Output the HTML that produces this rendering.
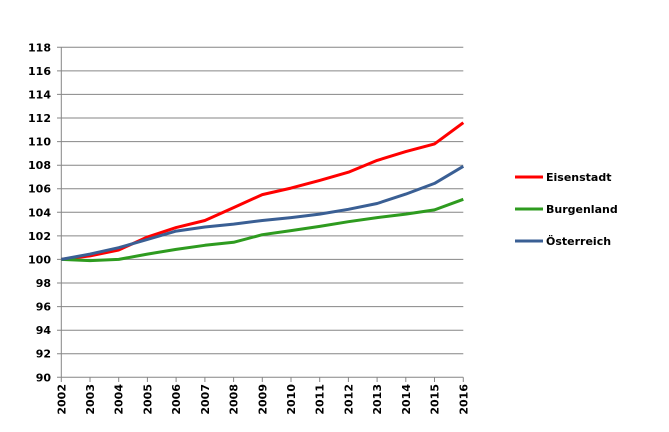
<!DOCTYPE html>
<html><head><meta charset="utf-8"><style>body{margin:0;background:#fff}svg{display:block}text{font-family:"DejaVu Sans","Liberation Sans",sans-serif;font-weight:bold;font-size:11px;fill:#000}</style></head><body>
<svg width="669" height="432" viewBox="0 0 669 432" xmlns="http://www.w3.org/2000/svg">
<g stroke="#868686" stroke-width="1">
<line x1="57" x2="463.3" y1="47.3" y2="47.3"/><line x1="57" x2="463.3" y1="70.9" y2="70.9"/><line x1="57" x2="463.3" y1="94.4" y2="94.4"/><line x1="57" x2="463.3" y1="118" y2="118"/><line x1="57" x2="463.3" y1="141.6" y2="141.6"/><line x1="57" x2="463.3" y1="165.2" y2="165.2"/><line x1="57" x2="463.3" y1="188.7" y2="188.7"/><line x1="57" x2="463.3" y1="212.3" y2="212.3"/><line x1="57" x2="463.3" y1="235.9" y2="235.9"/><line x1="57" x2="463.3" y1="259.4" y2="259.4"/><line x1="57" x2="463.3" y1="283" y2="283"/><line x1="57" x2="463.3" y1="306.6" y2="306.6"/><line x1="57" x2="463.3" y1="330.2" y2="330.2"/><line x1="57" x2="463.3" y1="353.7" y2="353.7"/><line x1="57" x2="463.3" y1="377.3" y2="377.3"/>
<line x1="61.3" x2="61.3" y1="47.3" y2="382"/>
<line x1="90" x2="90" y1="377.3" y2="382"/><line x1="118.7" x2="118.7" y1="377.3" y2="382"/><line x1="147.4" x2="147.4" y1="377.3" y2="382"/><line x1="176.1" x2="176.1" y1="377.3" y2="382"/><line x1="204.9" x2="204.9" y1="377.3" y2="382"/><line x1="233.6" x2="233.6" y1="377.3" y2="382"/><line x1="262.3" x2="262.3" y1="377.3" y2="382"/><line x1="291" x2="291" y1="377.3" y2="382"/><line x1="319.7" x2="319.7" y1="377.3" y2="382"/><line x1="348.4" x2="348.4" y1="377.3" y2="382"/><line x1="377.1" x2="377.1" y1="377.3" y2="382"/><line x1="405.8" x2="405.8" y1="377.3" y2="382"/><line x1="434.5" x2="434.5" y1="377.3" y2="382"/><line x1="463.3" x2="463.3" y1="377.3" y2="382"/>
</g>
<g text-anchor="end">
<text x="51" y="51.3">118</text><text x="51" y="74.9">116</text><text x="51" y="98.4">114</text><text x="51" y="122">112</text><text x="51" y="145.6">110</text><text x="51" y="169.2">108</text><text x="51" y="192.7">106</text><text x="51" y="216.3">104</text><text x="51" y="239.9">102</text><text x="51" y="263.4">100</text><text x="51" y="287">98</text><text x="51" y="310.6">96</text><text x="51" y="334.2">94</text><text x="51" y="357.7">92</text><text x="51" y="381.3">90</text>
</g>
<g text-anchor="end">
<text transform="translate(65.3,384) rotate(-90)">2002</text><text transform="translate(94,384) rotate(-90)">2003</text><text transform="translate(122.7,384) rotate(-90)">2004</text><text transform="translate(151.4,384) rotate(-90)">2005</text><text transform="translate(180.1,384) rotate(-90)">2006</text><text transform="translate(208.9,384) rotate(-90)">2007</text><text transform="translate(237.6,384) rotate(-90)">2008</text><text transform="translate(266.3,384) rotate(-90)">2009</text><text transform="translate(295,384) rotate(-90)">2010</text><text transform="translate(323.7,384) rotate(-90)">2011</text><text transform="translate(352.4,384) rotate(-90)">2012</text><text transform="translate(381.1,384) rotate(-90)">2013</text><text transform="translate(409.8,384) rotate(-90)">2014</text><text transform="translate(438.5,384) rotate(-90)">2015</text><text transform="translate(467.3,384) rotate(-90)">2016</text>
</g>
<g fill="none" stroke-width="3" stroke-linejoin="round">
<polyline stroke="#ff0000" points="61.3,259.4 90,255.9 118.7,250 147.4,237 176.1,227.6 204.9,220.5 233.6,207.6 262.3,194.6 291,188.1 319.7,180.4 348.4,172.2 377.1,160.4 405.8,151.6 434.5,143.9 463.3,122.7"/>
<polyline stroke="#2e9b1f" points="61.3,259.4 90,260.6 118.7,259.4 147.4,254.1 176.1,249.4 204.9,245.3 233.6,242.3 262.3,234.7 291,230.6 319.7,226.4 348.4,221.7 377.1,217.6 405.8,214.1 434.5,209.9 463.3,199.3"/>
<polyline stroke="#3a5f94" points="61.3,259.4 90,254.1 118.7,247.7 147.4,239.4 176.1,231.1 204.9,227 233.6,224.1 262.3,220.5 291,217.6 319.7,214.1 348.4,209.3 377.1,203.5 405.8,194.1 434.5,183.4 463.3,166.3"/>
</g>
<g stroke-width="3">
<line x1="515" x2="543" y1="177" y2="177" stroke="#ff0000"/>
<line x1="515" x2="543" y1="209" y2="209" stroke="#2e9b1f"/>
<line x1="515" x2="543" y1="241" y2="241" stroke="#3a5f94"/>
</g>
<text x="546" y="181">Eisenstadt</text>
<text x="546" y="213">Burgenland</text>
<text x="546" y="245">Österreich</text>
</svg>
</body></html>
